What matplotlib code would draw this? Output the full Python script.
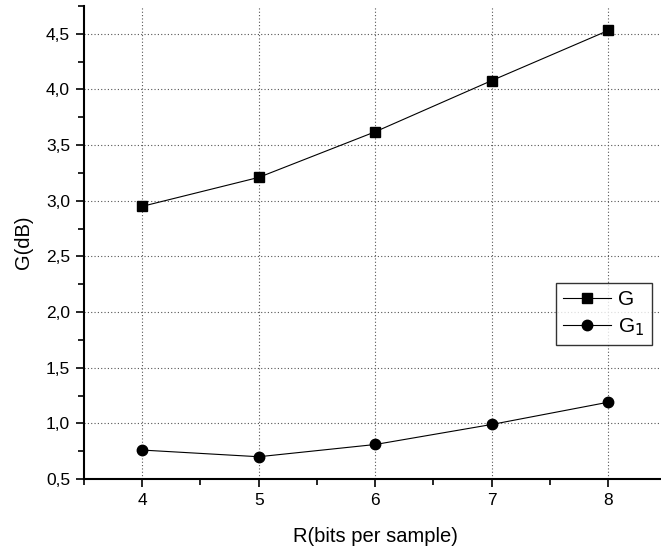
import matplotlib
matplotlib.use("Agg")
import matplotlib.pyplot as plt
from matplotlib.ticker import MultipleLocator, FuncFormatter

R = [4, 5, 6, 7, 8]
G = [2.95, 3.21, 3.62, 4.08, 4.53]
G1 = [0.76, 0.70, 0.81, 0.99, 1.19]

plt.rcParams['font.family'] = ['Liberation Sans', 'DejaVu Sans']

fig = plt.figure(figsize=(6.61, 5.49), dpi=100)
ax = fig.add_axes([84/661, 70/549, 582.5/661, 473/549])

ax.plot(R, G, '-', color='black', lw=0.8, marker='s', ms=6.5, label='G')
ax.plot(R, G1, '-', color='black', lw=0.8, marker='o', ms=7.5, label='G$_1$')

ax.set_xlim(3.5, 8.5)
ax.set_ylim(0.5, 4.75)
ax.xaxis.set_major_locator(MultipleLocator(1))
ax.xaxis.set_minor_locator(MultipleLocator(0.5))
ax.yaxis.set_major_locator(MultipleLocator(0.5))
ax.yaxis.set_minor_locator(MultipleLocator(0.25))
ax.yaxis.set_major_formatter(FuncFormatter(lambda v, p: f"{v:.1f}".replace('.', ',')))

ax.grid(True, which='major', linestyle=(0, (1, 2)), color='#555555', lw=0.8)
ax.tick_params(which='major', direction='out', length=6, width=1.2, labelsize=12.5, pad=4)
ax.tick_params(which='minor', direction='out', length=4, width=1.2)
for s in ['top', 'right']:
    ax.spines[s].set_visible(False)
for s in ['left', 'bottom']:
    ax.spines[s].set_linewidth(1.5)

ax.set_xlabel('R(bits per sample)', fontsize=14.5, labelpad=14)
ax.set_ylabel('G(dB)', fontsize=14.5, labelpad=9)

leg = ax.legend(loc='upper left', bbox_to_anchor=((556-84)/582.5, (479-283)/473),
                frameon=True, fancybox=False, edgecolor='black', fontsize=15,
                handlelength=2.3, borderpad=0.35, labelspacing=0.35, handletextpad=0.35,
                borderaxespad=0)
leg.get_frame().set_linewidth(1.0)

fig.savefig('out.png', dpi=100)
